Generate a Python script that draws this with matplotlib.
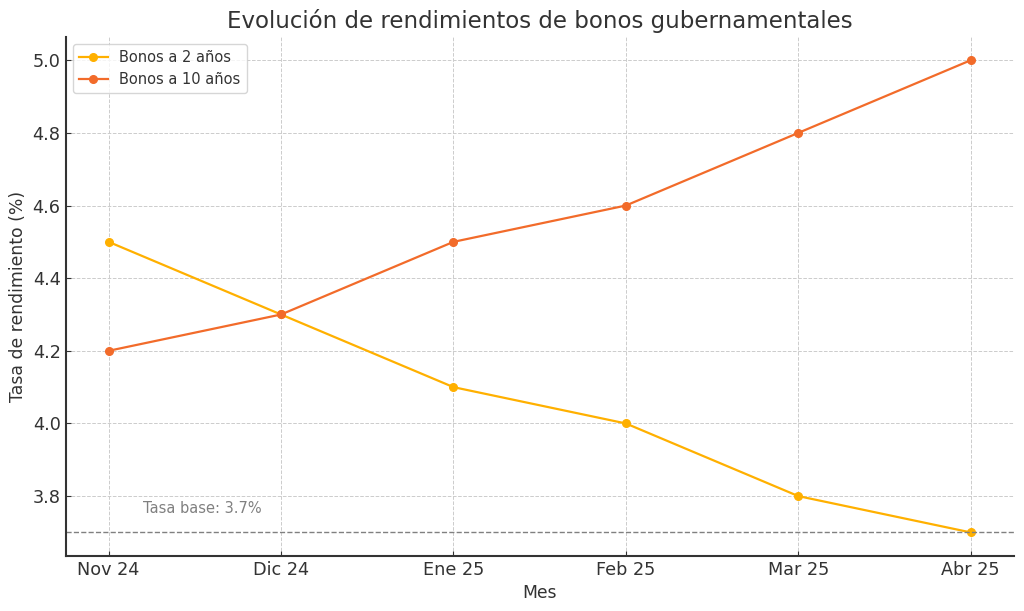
import matplotlib.pyplot as plt

plt.rcParams['font.family'] = 'DejaVu Sans'

# data
meses = ['Nov 24', 'Dic 24', 'Ene 25', 'Feb 25', 'Mar 25', 'Abr 25']
bonos_2 = [4.5, 4.3, 4.1, 4.0, 3.8, 3.7]
bonos_10 = [4.2, 4.3, 4.5, 4.6, 4.8, 5.0]
tasa_base = 3.7

ink = '#333333'

fig, ax = plt.subplots(figsize=(10.24, 6.11), dpi=100)
x = range(len(meses))
ax.plot(x, bonos_2, marker='o', color='#FFB000', label='Bonos a 2 años', linewidth=1.6, markersize=5.5)
ax.plot(x, bonos_10, marker='o', color='#F26B2A', label='Bonos a 10 años', linewidth=1.6, markersize=5.5)
ax.axhline(tasa_base, color='gray', linestyle='--', linewidth=1)
ax.text(0.2, 3.745, f'Tasa base: {tasa_base}%', color='gray', fontsize=10.5, va='bottom')

ax.set_xticks(list(x))
ax.set_xticklabels(meses)
ax.set_title('Evolución de rendimientos de bonos gubernamentales', fontsize=16.5, color=ink)
ax.set_xlabel('Mes', fontsize=12.4, color=ink)
ax.set_ylabel('Tasa de rendimiento (%)', fontsize=12.4, color=ink)
ax.grid(True, linestyle='--', color='#cccccc', linewidth=0.7)
ax.tick_params(direction='in', labelsize=12.7, colors=ink)
for s in ['top', 'right']:
    ax.spines[s].set_visible(False)
for s in ['left', 'bottom']:
    ax.spines[s].set_color(ink)
    ax.spines[s].set_linewidth(1.5)
leg = ax.legend(loc='upper left', fontsize=10.5)
for t in leg.get_texts():
    t.set_color(ink)

plt.subplots_adjust(left=0.064, right=0.99, top=0.94, bottom=0.09)
plt.savefig('out.png', dpi=100)
